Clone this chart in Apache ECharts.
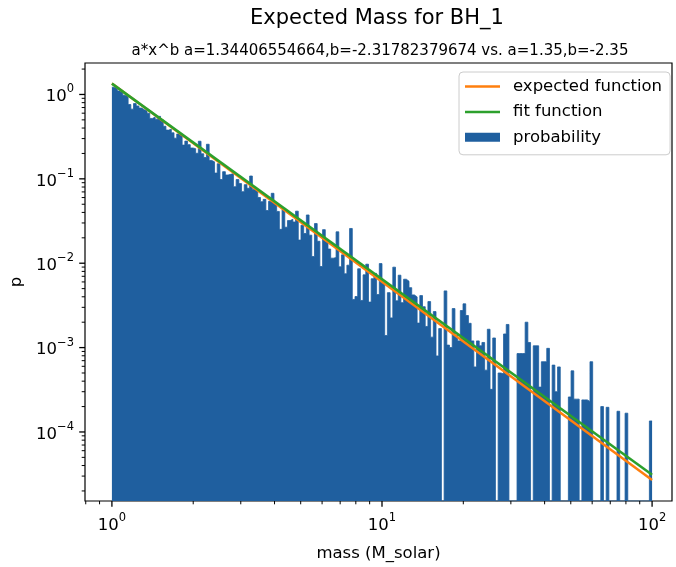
<!DOCTYPE html>
<html><head><meta charset="utf-8">
<script src="https://cdn.jsdelivr.net/npm/echarts@6/dist/echarts.min.js"></script>
<style>html,body{margin:0;padding:0;background:#fff}#c{width:676px;height:567px}</style>
</head><body><div id="c"></div>
<script>
// Histogram: 200 log-spaced bins between 1 and 100 (density values)
const binCount = 200;
const binLow = 1, binHigh = 100;
const probability = [
 1.22, 1.18, 1.10, 1.06, 0.98, 0.95, 0.76, 0.67, 0.78, 0.73,
 0.69, 0.66, 0.64, 0.60, 0.52, 0.54, 0.51, 0.55, 0.50, 0.42,
 0.378, 0.388, 0.351, 0.303, 0.340, 0.340, 0.251, 0.280, 0.254, 0.232,
 0.228, 0.201, 0.279, 0.198, 0.179, 0.257, 0.165, 0.159, 0.117, 0.151,
 0.0982, 0.1216, 0.1110, 0.1130, 0.1155, 0.0806, 0.0981, 0.0878, 0.0704, 0.0853,
 0.0773, 0.1080, 0.0749, 0.0746, 0.0601, 0.0536, 0.0571, 0.0421, 0.0541, 0.0674,
 0.0511, 0.0411, 0.0252, 0.0434, 0.0267, 0.0320, 0.0332, 0.0308, 0.0414, 0.0188,
 0.0282, 0.0225, 0.0373, 0.0215, 0.0120, 0.0295, 0.0182, 0.00914, 0.0250, 0.0182,
 0.01472, 0.01148, 0.01165, 0.02355, 0.00906, 0.01256, 0.00750, 0.00948, 0.02581, 0.00372,
 0.00403, 0.00859, 0.00362, 0.00728, 0.00974, 0.00346, 0.00655, 0.00758, 0.00425, 0.00990,
 0.00587, 0.00139, 0.00448, 0.00225, 0.00898, 0.00358, 0.00721, 0.00341, 0.00646, 0.00612,
 0.00513, 0.00421, 0.00399, 0.00195, 0.00413, 0.00305, 0.00178, 0.00351, 0.00133, 0.00267,
 0.000796, 0.00168, 0, 0.0047, 0.00107, 0.00100, 0.0029, 0.00140, 0.00120, 0.00275,
 0.0033, 0.0024, 0.00194, 0.00120, 0.00059, 0.00120, 0.00105, 0.00115, 0.00054, 0.00165,
 0.00032, 0.0013, 0, 0.00050, 0.00049, 0.00145, 0.00188, 0, 0, 0,
 0.00085, 0.00085, 0.00085, 0.0020, 0.00115, 0, 0.00105, 0.00105, 0.00034, 0.00068,
 0.00068, 0.00098, 0, 0.00062, 0.00030, 0.00059, 0, 0, 0, 0.00026,
 0.00053, 0.000245, 0.000245, 0, 0.00024, 0.00024, 0.00023, 0.00068, 0, 0,
 0, 0.00020, 0, 0.000196, 0, 0, 0, 0.000176, 0, 0,
 0.000167, 0, 0, 0, 0, 0, 0, 0, 0, 0.000135
];
// Function lines (endpoints)
const lineMass = [1, 100];
const expectedValues = [1.35, 2.69e-5];
const fitValues = [1.344, 3.11e-5];
// Axis extents and ticks
const xRange = [0.795, 118.5];
const yRange = [1.52e-5, 2.36];
const xMajorTicks = [1, 10, 100];
const xMinorTicks = [0.8, 0.9, 2, 3, 4, 5, 6, 7, 8, 9, 20, 30, 40, 50, 60, 70, 80, 90];
const yMajorTicks = [1e-4, 1e-3, 1e-2, 1e-1, 1];
const yMinorTicks = [2e-5,3e-5,4e-5,5e-5,6e-5,7e-5,8e-5,9e-5,
  2e-4,3e-4,4e-4,5e-4,6e-4,7e-4,8e-4,9e-4,
  2e-3,3e-3,4e-3,5e-3,6e-3,7e-3,8e-3,9e-3,
  2e-2,3e-2,4e-2,5e-2,6e-2,7e-2,8e-2,9e-2,
  0.2,0.3,0.4,0.5,0.6,0.7,0.8,0.9, 2];

const FONT = 'DejaVu Sans';
const BAR = '#1f5f9f';

// bin edges (log-spaced) and step-area points: each bin's value runs from its left edge to its right edge;
// an empty bin is drawn down at the axis floor
const logLow = Math.log10(binLow), logHigh = Math.log10(binHigh);
const edges = [];
for (let i = 0; i <= binCount; i++) edges.push(Math.pow(10, logLow + (logHigh - logLow) * i / binCount));
const histData = edges.map((e, i) => {
  const v = probability[Math.min(i, binCount - 1)];
  return [e, v > 0 ? v : yRange[0]];
});

function supLabel(v) {
  const l = Math.log10(v), e = Math.round(l);
  if (Math.abs(l - e) > 1e-6) return '';
  return '{b|10}{s|' + (e < 0 ? '\u2212' + (-e) : e) + '}';
}
const labelRich = {
  b: { fontSize: 16.5, fontFamily: FONT, color: '#000', lineHeight: 22, verticalAlign: 'bottom' },
  s: { fontSize: 11.5, fontFamily: FONT, color: '#000', lineHeight: 22, verticalAlign: 'top' }
};

function tickSeries(axis, values, len, width) {
  return {
    type: 'custom', silent: true, clip: false, z: 5,
    data: values.map(v => axis === 'x' ? [v, yRange[0]] : [xRange[0], v]),
    renderItem(params, api) {
      const p = api.coord([api.value(0), api.value(1)]);
      const shape = axis === 'x'
        ? { x1: p[0], y1: p[1], x2: p[0], y2: p[1] + len }
        : { x1: p[0] - len, y1: p[1], x2: p[0], y2: p[1] };
      return { type: 'line', shape, style: { stroke: '#000', lineWidth: width } };
    }
  };
}

const LINE_ICON = 'path://M0,0h35v2.5h-35z';
const chart = echarts.init(document.getElementById('c'));
chart.setOption({
  animation: false,
  backgroundColor: '#fff',
  title: [
    { text: 'Expected Mass for BH_1', left: 372, textAlign: 'center', top: 3,
      textStyle: { fontSize: 21, fontWeight: 'normal', color: '#000', fontFamily: FONT } },
    { text: 'a*x^b a=1.34406554664,b=-2.31782379674 vs. a=1.35,b=-2.35', left: 375, textAlign: 'center', top: 39,
      textStyle: { fontSize: 15, fontWeight: 'normal', color: '#000', fontFamily: FONT } }
  ],
  grid: { left: 83, top: 63, width: 589, height: 445, show: true, borderColor: '#000', borderWidth: 1.2, backgroundColor: 'transparent' },
  legend: {
    orient: 'vertical', left: 459, top: 72, padding: [6, 8, 9, 6],
    itemWidth: 35, itemHeight: 9, itemGap: 8.4, symbolKeepAspect: true,
    backgroundColor: 'rgba(255,255,255,0.8)', borderColor: '#cccccc', borderWidth: 1, borderRadius: 4,
    textStyle: { fontSize: 16.5, fontFamily: FONT, color: '#000', padding: [0, 0, 0, 8] },
    data: [
      { name: 'expected function', icon: LINE_ICON },
      { name: 'fit function', icon: LINE_ICON },
      { name: 'probability', icon: 'rect' }
    ]
  },
  xAxis: {
    type: 'log', logBase: 10, min: xRange[0], max: xRange[1],
    name: 'mass (M_solar)', nameLocation: 'middle', nameGap: 44,
    nameTextStyle: { fontSize: 16.5, fontFamily: FONT, color: '#000' },
    axisLine: { show: false }, axisTick: { show: false }, splitLine: { show: false },
    axisLabel: { formatter: supLabel, rich: labelRich, margin: 11, showMinLabel: false, showMaxLabel: false }
  },
  yAxis: {
    type: 'log', logBase: 10, min: yRange[0], max: yRange[1],
    name: 'p', nameLocation: 'middle', nameGap: 60, nameRotate: 90,
    nameTextStyle: { fontSize: 16.5, fontFamily: FONT, color: '#000' },
    axisLine: { show: false }, axisTick: { show: false }, splitLine: { show: false },
    axisLabel: { formatter: supLabel, rich: labelRich, margin: 11, showMinLabel: false, showMaxLabel: false }
  },
  series: [
    {
      name: 'probability', type: 'line', step: 'end', symbol: 'none', z: 1, color: BAR,
      itemStyle: { color: BAR },
      lineStyle: { width: 0.8, color: BAR },
      areaStyle: { color: BAR, opacity: 1, origin: 'start' },
      data: histData
    },
    { name: 'expected function', type: 'line', symbol: 'none', z: 3, color: '#ff7f0e',
      lineStyle: { width: 2.5, color: '#ff7f0e' },
      data: lineMass.map((m, i) => [m, expectedValues[i]]) },
    { name: 'fit function', type: 'line', symbol: 'none', z: 4, color: '#2ca02c',
      lineStyle: { width: 2.5, color: '#2ca02c' },
      data: lineMass.map((m, i) => [m, fitValues[i]]) },
    tickSeries('x', xMajorTicks, 5.8, 1.3),
    tickSeries('x', xMinorTicks, 3.3, 1),
    tickSeries('y', yMajorTicks, 5.8, 1.3),
    tickSeries('y', yMinorTicks, 3.3, 1)
  ]
});
</script></body></html>
